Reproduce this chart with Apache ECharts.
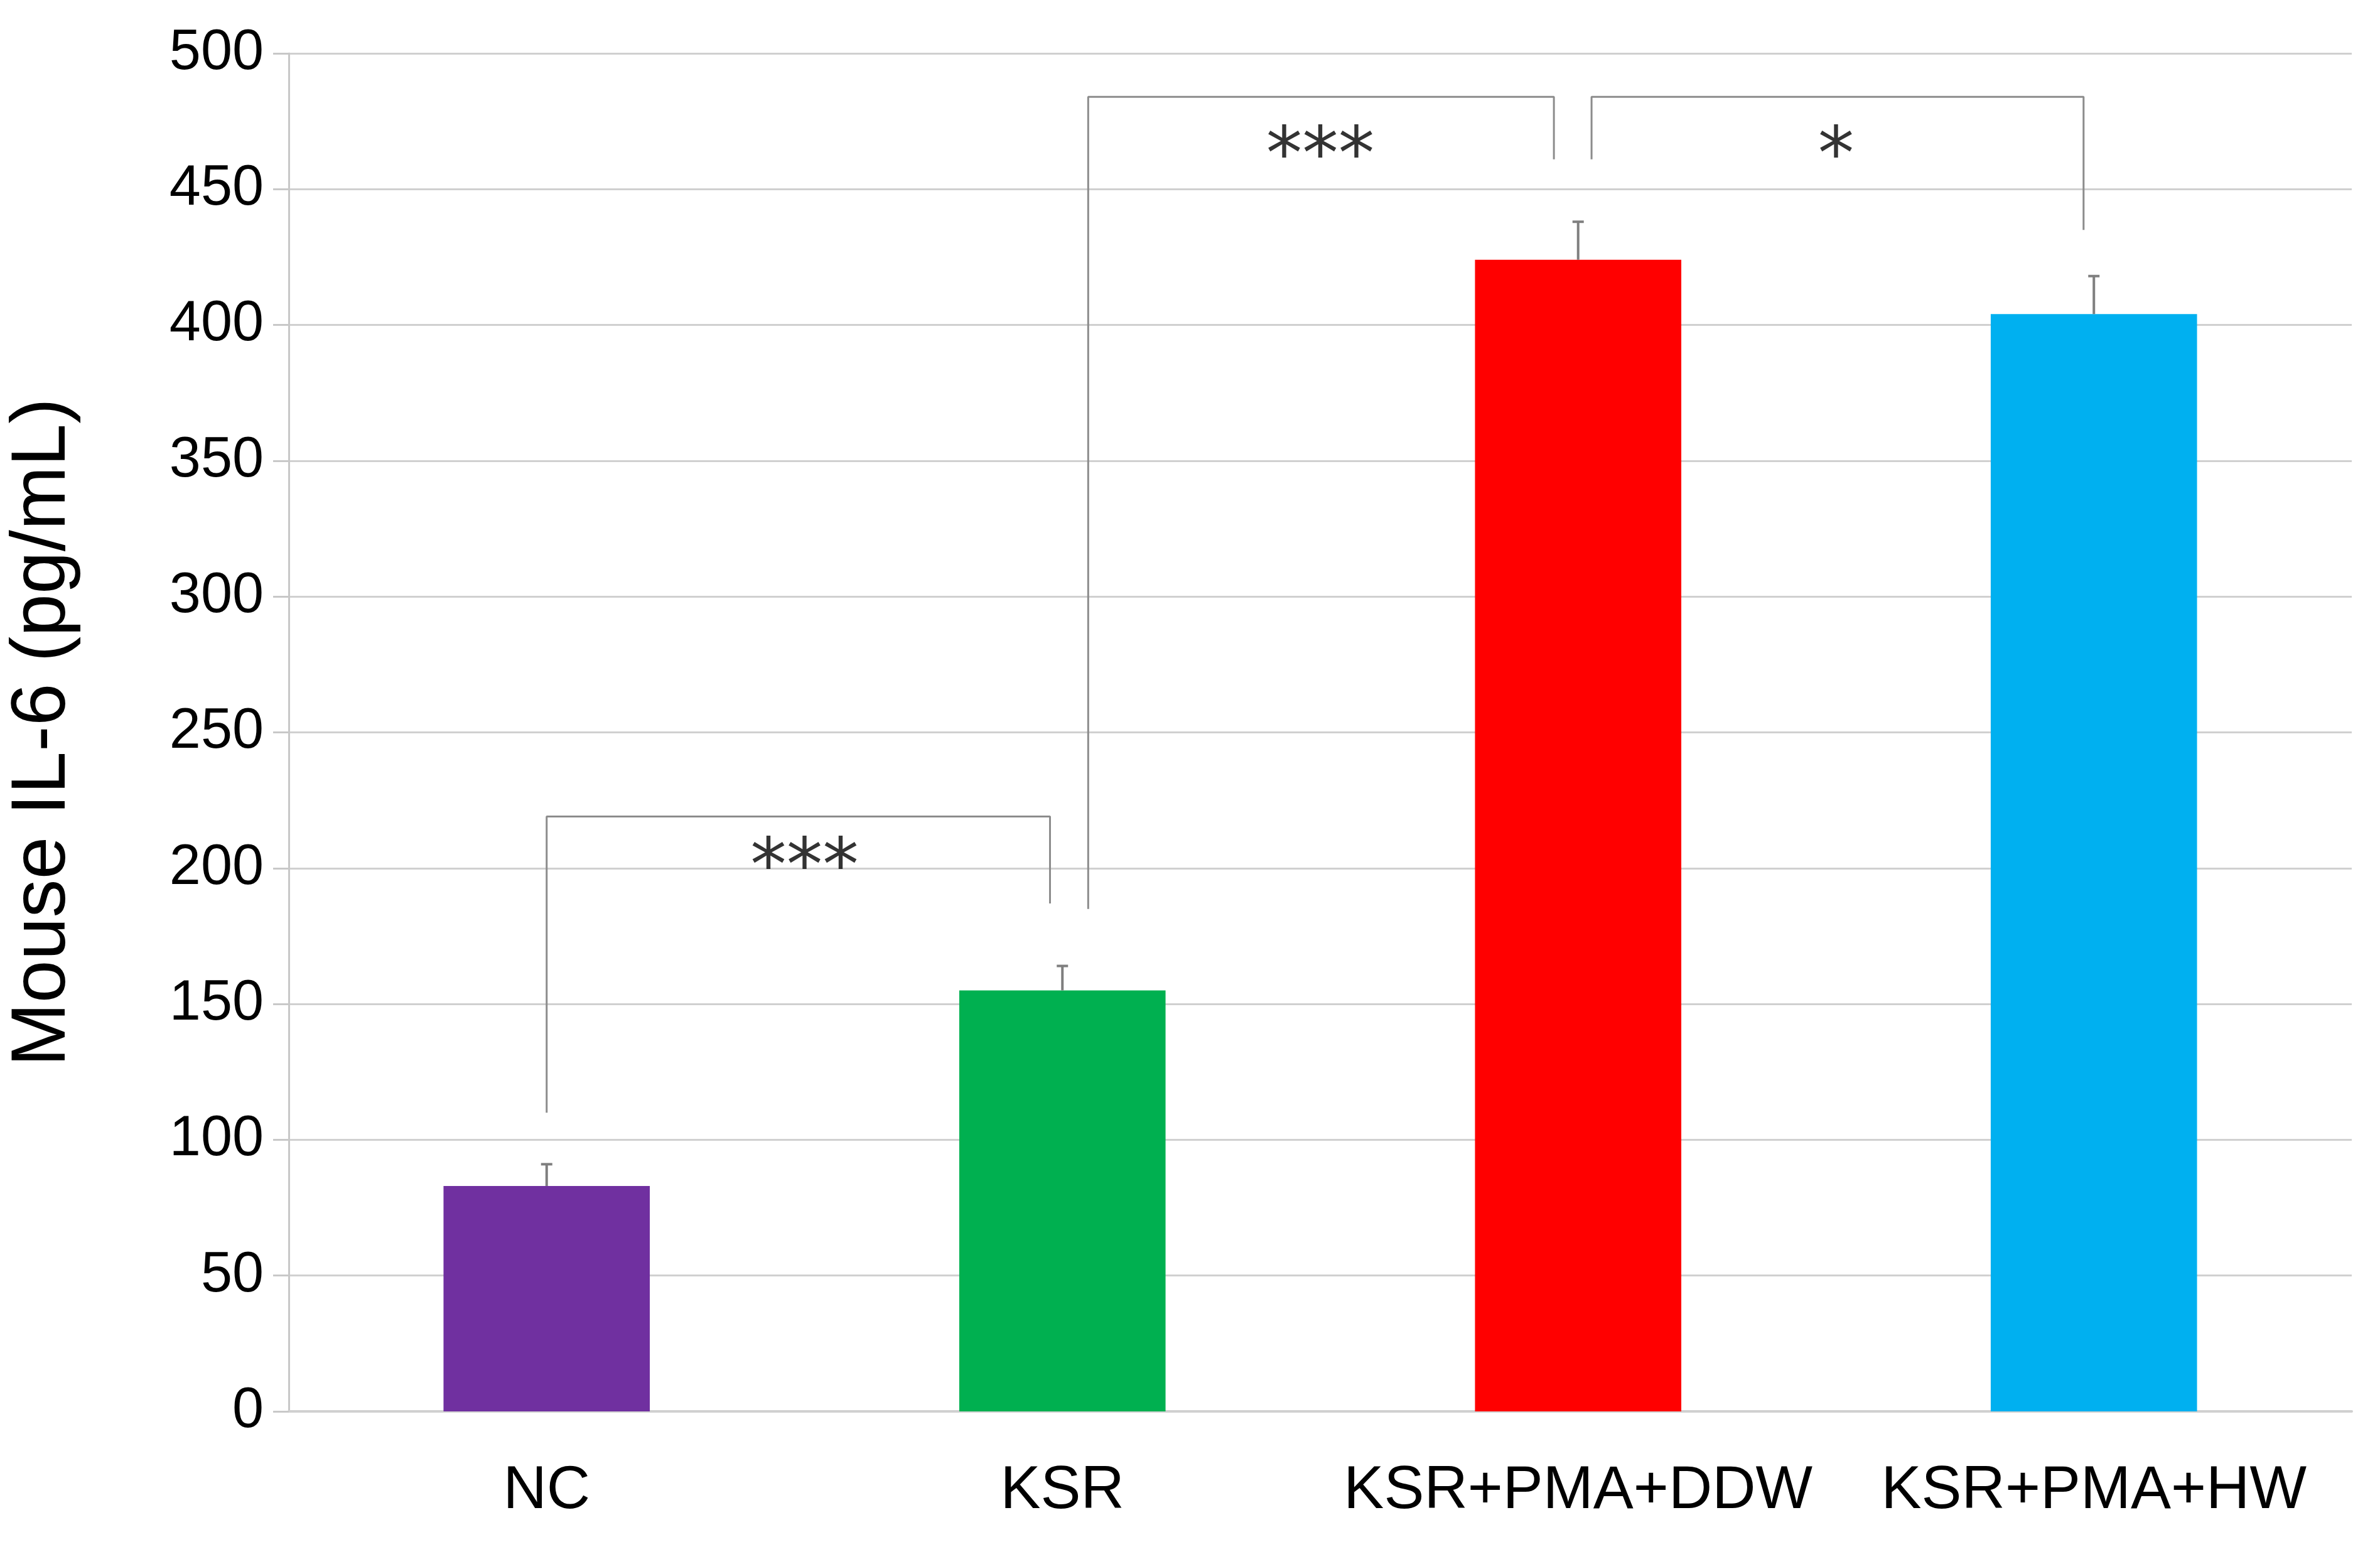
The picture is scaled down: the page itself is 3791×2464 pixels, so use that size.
<!DOCTYPE html>
<html>
<head>
<meta charset="utf-8">
<script src="https://cdn.jsdelivr.net/npm/echarts@6/dist/echarts.min.js"></script>
<style>html,body{margin:0;padding:0;background:#fff}</style>
</head>
<body>
<div id="main" style="width:3791px;height:2464px;"></div>
<script>
var categories = ['NC', 'KSR', 'KSR+PMA+DDW', 'KSR+PMA+HW'];
var values = [83, 155, 424, 404];
var errors = [8, 9, 14, 14];
var colors = ['#7030A0', '#00B050', '#FF0000', '#00B0F0'];
// brackets: [x, y] in (category index, value) space
var brackets = [
  [[0, 110], [0, 219], [0.976, 219], [0.976, 187]],
  [[1.05, 185], [1.05, 484], [1.953, 484], [1.953, 461]],
  [[2.026, 461], [2.026, 484], [2.98, 484], [2.98, 435]]
];
var stars = [[0.5, 199, '***'], [1.5, 461, '***'], [2.5, 461, '*']];

var chart = echarts.init(document.getElementById('main'));
var font = 'Liberation Sans, Arial, sans-serif';
var series = [{
  type: 'bar',
  data: values.map(function (v, i) { return { value: v, itemStyle: { color: colors[i] } }; }),
  barWidth: '40%',
  z: 2
}, {
  type: 'custom',
  data: values.map(function (v, i) { return [i, v, v + errors[i]]; }),
  renderItem: function (params, api) {
    var lo = api.coord([api.value(0), api.value(1)]);
    var hi = api.coord([api.value(0), api.value(2)]);
    var st = { stroke: '#7f7f7f', lineWidth: 4 };
    return { type: 'group', children: [
      { type: 'line', shape: { x1: lo[0], y1: lo[1], x2: hi[0], y2: hi[1] }, style: st },
      { type: 'line', shape: { x1: hi[0] - 9, y1: hi[1], x2: hi[0] + 9, y2: hi[1] }, style: st }
    ] };
  },
  z: 3
}];
brackets.forEach(function (b) {
  series.push({
    type: 'line', xAxisIndex: 1, data: b, symbol: 'none', silent: true,
    lineStyle: { color: '#8c8c8c', width: 3 }, z: 4
  });
});
series.push({
  type: 'scatter', xAxisIndex: 1, symbolSize: 0, silent: true,
  data: stars.map(function (s) { return { value: [s[0], s[1]], label: { formatter: s[2] } }; }),
  label: { show: true, position: 'inside', color: '#000', fontSize: 115, fontFamily: 'DejaVu Sans, sans-serif' },
  z: 5
});

chart.setOption({
  animation: false,
  grid: { left: 455, right: 45, top: 85, bottom: 216 },
  xAxis: [{
    type: 'category', data: categories,
    axisLine: { show: true, lineStyle: { color: '#d0d0d0', width: 4 } },
    axisTick: { show: false },
    axisLabel: { color: '#000', fontSize: 96, fontFamily: font, margin: 80, interval: 0 }
  }, {
    type: 'value', min: -0.5, max: 3.5, show: false
  }],
  yAxis: {
    type: 'value', min: 0, max: 500, interval: 50,
    name: 'Mouse IL-6 (pg/mL)', nameLocation: 'middle', nameGap: 330,
    nameTextStyle: { color: '#000', fontSize: 122, fontFamily: font },
    axisLine: { show: true, onZero: false, lineStyle: { color: '#c8c8c8', width: 3 } },
    axisTick: { show: true, length: 25, lineStyle: { color: '#c8c8c8', width: 3 } },
    splitLine: { lineStyle: { color: '#d0d0d0', width: 3 } },
    axisLabel: { color: '#000', fontSize: 90, fontFamily: font, margin: 40 }
  },
  series: series
});
</script>
</body>
</html>
